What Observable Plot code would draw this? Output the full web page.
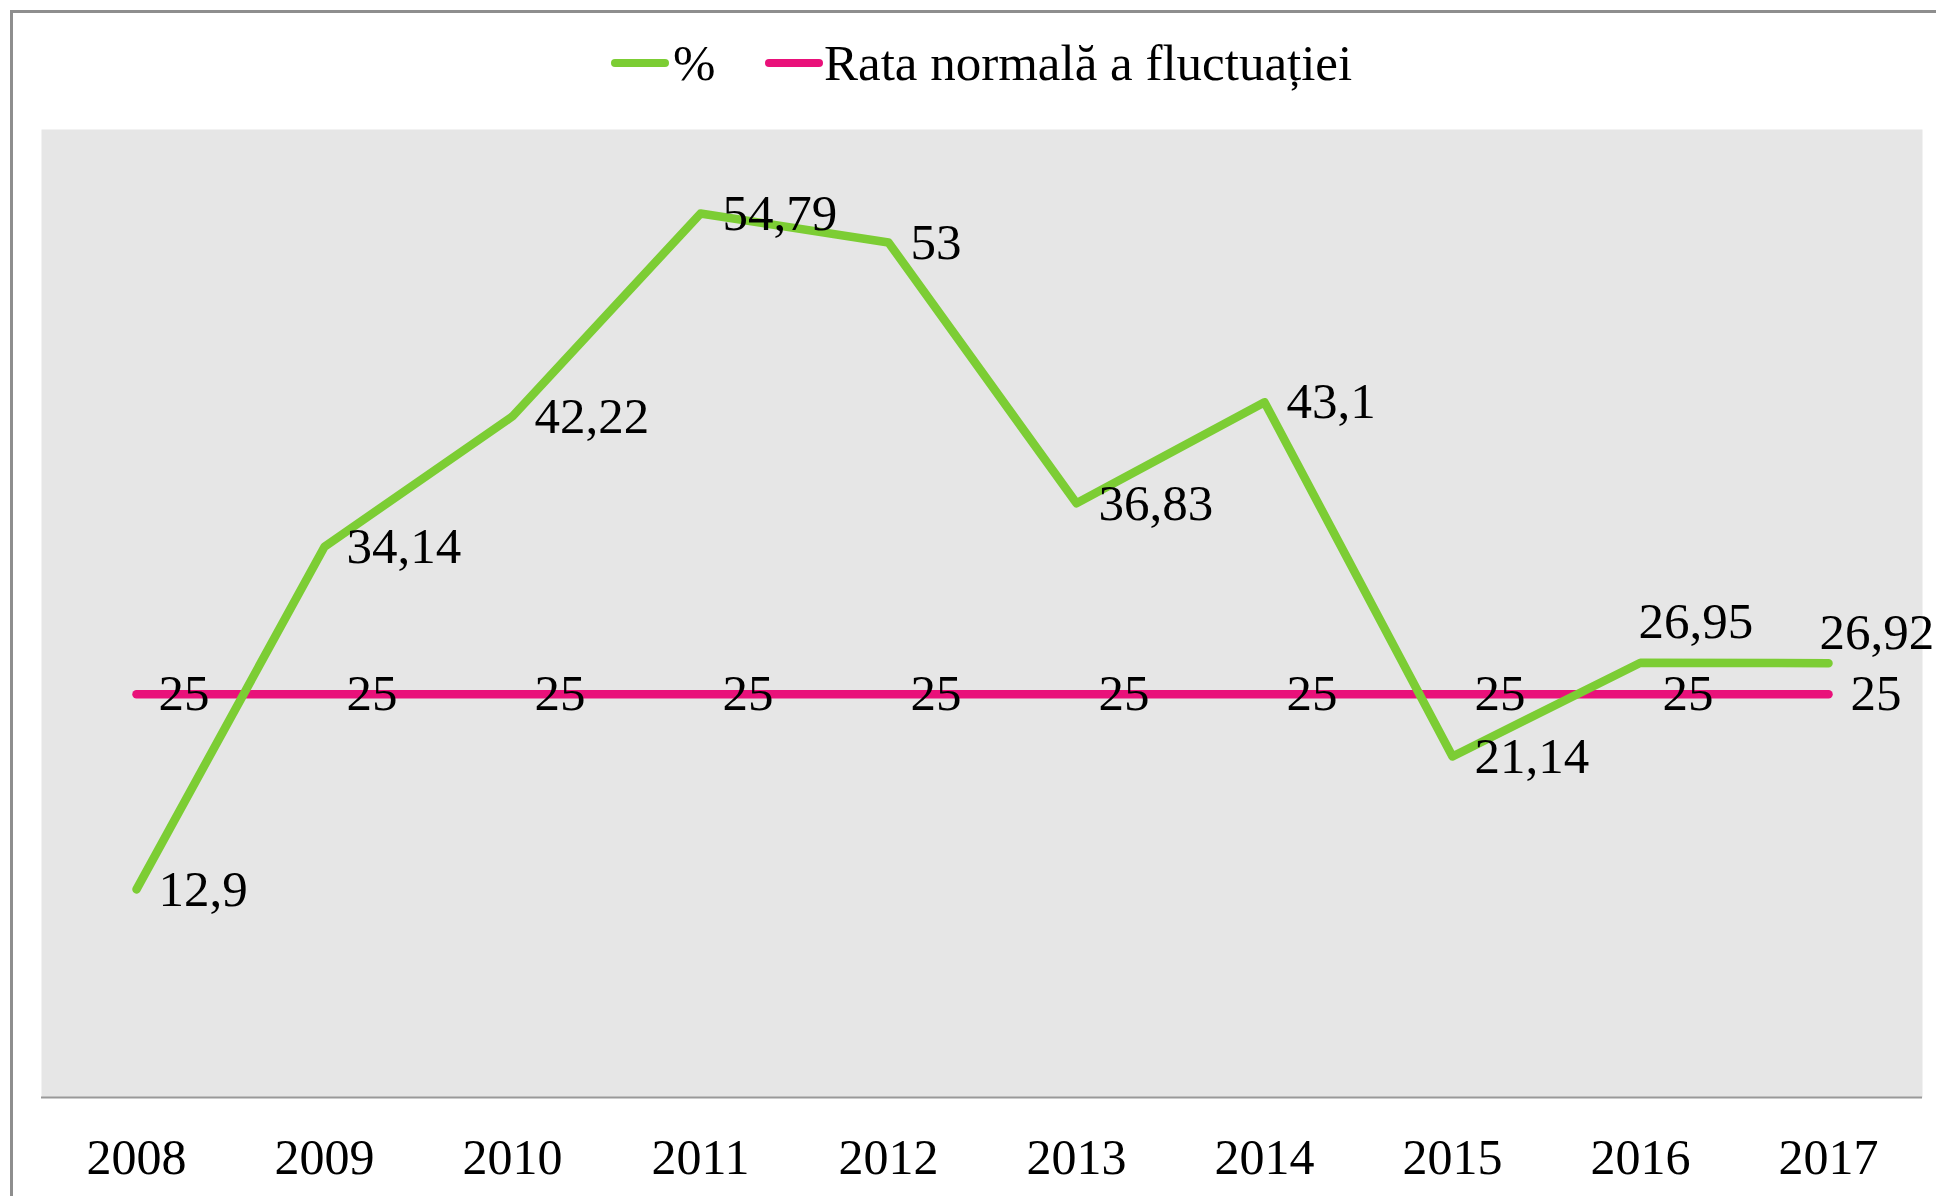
<!DOCTYPE html>
<html>
<head>
<meta charset="utf-8">
<script src="https://cdn.jsdelivr.net/npm/d3@7"></script>
<script src="https://cdn.jsdelivr.net/npm/@observablehq/plot@0.6"></script>
<style>
  html, body { margin: 0; padding: 0; background: #fff; }
  body { width: 1936px; height: 1196px; overflow: hidden; position: relative;
         font-family: "Liberation Serif", "Times New Roman", serif; }
  #border { position: absolute; left: 10px; top: 10px; width: 3000px; height: 3000px;
            border-left: 3px solid #8e8e8e; border-top: 3px solid #8e8e8e; }
  #legend { position: absolute; left: 0; top: 0; width: 1936px; height: 110px; }
  .sw { position: absolute; height: 8px; border-radius: 4px; top: 59px; }
  .lt { position: absolute; top: 33px; font-size: 51px; line-height: 60px; color: #000; white-space: nowrap; }
  #chart { position: absolute; left: 0; top: 110px; }
</style>
</head>
<body>
<div id="border"></div>
<div id="legend"></div>
<div id="chart"></div>
<script>
const years = ["2008","2009","2010","2011","2012","2013","2014","2015","2016","2017"];
const pct = [12.9, 34.14, 42.22, 54.79, 53, 36.83, 43.1, 21.14, 26.95, 26.92];
const normal = [25, 25, 25, 25, 25, 25, 25, 25, 25, 25];
const seriesNames = ["%", "Rata normală a fluctuației"];
const colors = ["#7CCD34", "#E9117A"];

const rows = years.map((y, i) => ({year: y, pct: pct[i], normal: normal[i]}));
const fmt = v => String(v).replace(".", ",");

// legend
const legend = document.getElementById("legend");
const legendPos = [{sw: 611, tx: 673}, {sw: 765, tx: 824}];
seriesNames.forEach((name, i) => {
  const s = document.createElement("div");
  s.className = "sw";
  s.style.left = legendPos[i].sw + "px";
  s.style.width = "58px";
  s.style.background = colors[i];
  legend.appendChild(s);
  const t = document.createElement("div");
  t.className = "lt";
  t.style.left = legendPos[i].tx + "px";
  t.textContent = name;
  legend.appendChild(t);
});

const moved = new Set(["2016", "2017"]);
const font = "'Liberation Serif', 'Times New Roman', serif";

const chart = Plot.plot({
  width: 1936,
  height: 1086,
  marginTop: 19,
  marginBottom: 99,
  marginLeft: 41,
  marginRight: 14,
  style: {fontFamily: font, fontSize: "50px", color: "#000", background: "transparent", overflow: "visible"},
  x: {type: "point", domain: years, padding: 0.5, label: null},
  y: {domain: [0, 60], axis: null},
  marks: [
    Plot.frame({fill: "#E6E6E6", stroke: null}),
    Plot.ruleY([0], {stroke: "#999", strokeWidth: 2}),
    Plot.axisX({tickSize: 0, tickPadding: 41, fontSize: 50, fill: "#000", label: null}),
    Plot.line(rows, {x: "year", y: "normal", stroke: colors[1], strokeWidth: 8.5, strokeLinecap: "round", strokeLinejoin: "round"}),
    Plot.line(rows, {x: "year", y: "pct", stroke: colors[0], strokeWidth: 8.5, strokeLinecap: "round", strokeLinejoin: "round"}),
    Plot.text(rows, {x: "year", y: "normal", text: d => fmt(d.normal), dx: 22, textAnchor: "start", lineAnchor: "middle", fontSize: 51, fill: "#000"}),
    Plot.text(rows.filter(d => !moved.has(d.year)), {x: "year", y: "pct", text: d => fmt(d.pct), dx: 22, textAnchor: "start", lineAnchor: "middle", fontSize: 51, fill: "#000"}),
    Plot.text(rows.filter(d => d.year === "2016"), {x: "year", y: "pct", text: d => fmt(d.pct), dx: -2, dy: -41, textAnchor: "start", lineAnchor: "middle", fontSize: 51, fill: "#000"}),
    Plot.text(rows.filter(d => d.year === "2017"), {x: "year", y: "pct", text: d => fmt(d.pct), dx: -9, dy: -31, textAnchor: "start", lineAnchor: "middle", fontSize: 51, fill: "#000"})
  ]
});
document.getElementById("chart").appendChild(chart);
</script>
</body>
</html>
